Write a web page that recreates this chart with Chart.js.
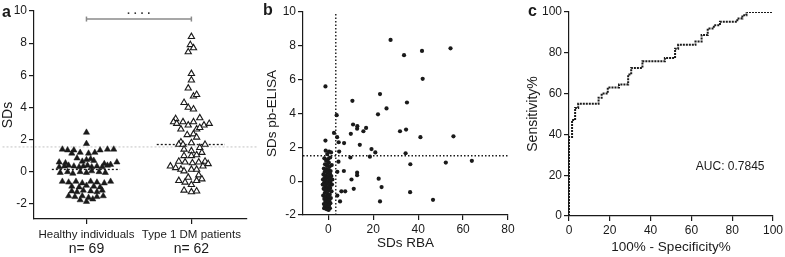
<!DOCTYPE html>
<html>
<head>
<meta charset="utf-8">
<script src="https://cdn.jsdelivr.net/npm/chart.js@4.4.0/dist/chart.umd.min.js"></script>
<style>
html, body { margin: 0; padding: 0; background: #fff; }
#wrap { position: relative; width: 785px; height: 257px; overflow: hidden; }
canvas { position: absolute; top: 0; }
</style>
</head>
<body>
<div id="wrap">
  <canvas id="chartA" width="262" height="257" style="left:0px"></canvas>
  <canvas id="chartB" width="263" height="257" style="left:262px"></canvas>
  <canvas id="chartC" width="260" height="257" style="left:525px"></canvas>
</div>
<script>
// ---- panel a: SDs per group (x = group position + jitter offset) ----
var groupLabels = ['Healthy individuals', 'Type 1 DM patients'];
var groupCounts = ['n= 69', 'n= 62'];
var yTicksA = [-2, 0, 2, 4, 6, 8, 10];

var healthyOffset = [0, 0,
  -0.23, -0.18, -0.12, 0.13, 0.20, 0.26,
  -0.14, -0.06, 0.02, 0.08,
  -0.09, 0.0, 0.04,
  -0.26, -0.2, -0.04, 0.07, 0.17, 0.23, 0.29,
  -0.26, -0.21, -0.17, -0.12, -0.07, -0.03, 0.01, 0.05, 0.10, 0.15, 0.2,
  -0.25, -0.18, -0.13, -0.06, 0.0, 0.05, 0.12, 0.18,
  -0.23, -0.17, -0.1, -0.04, 0.04, 0.10, 0.17, 0.23,
  -0.14, -0.07, 0.0, 0.07, 0.13,
  -0.14, -0.09, -0.03, 0.04, 0.10, 0.15,
  -0.17, -0.11, -0.04, 0.02, 0.10, 0.16,
  -0.06, 0.0, 0.06];
var healthyY = [2.45, 1.75,
  1.4, 1.35, 1.35, 1.35, 1.4, 1.4,
  1.15, 1.2, 1.15, 1.2,
  0.85, 0.75, 0.8,
  0.6, 0.55, 0.65, 0.7, 0.5, 0.45, 0.6,
  0.3, 0.35, 0.4, 0.35, 0.3, 0.35, 0.4, 0.3, 0.35, 0.3, 0.4,
  -0.05, 0.0, -0.1, 0.0, -0.05, 0.05, 0.0, -0.05,
  -0.6, -0.65, -0.6, -0.7, -0.6, -0.65, -0.7, -0.6,
  -0.9, -0.95, -0.85, -0.9, -0.95,
  -1.2, -1.25, -1.15, -1.2, -1.25, -1.15,
  -1.5, -1.55, -1.5, -1.6, -1.55, -1.5,
  -1.75, -1.85, -1.7];

var diabeticOffset = [0.0,
  -0.01, 0.02, -0.03,
  0.0, 0.0, -0.03,
  0.02, 0.05,
  -0.07, -0.03, 0.02,
  -0.15, -0.17, -0.14, -0.08, -0.03, 0.02, 0.08, 0.12, 0.17,
  -0.1, 0.05, 0.08,
  -0.04, 0.02, 0.05,
  -0.1, -0.12, -0.08, 0.0, 0.08, 0.13,
  -0.07, 0.0, 0.1,
  -0.07, 0.0, 0.05,
  -0.12, -0.06, 0.01, 0.07, 0.13, 0.16,
  -0.2, -0.15, -0.1, -0.07, 0.0, 0.05, 0.11,
  0.07, -0.03,
  -0.12, -0.06, 0.05, 0.1,
  0.0,
  -0.07, 0.0, 0.05];
var diabeticY = [8.4,
  7.9, 7.7, 7.45,
  6.1, 5.7, 5.2,
  4.7, 4.8,
  4.3, 4.0, 3.9,
  3.3, 3.1, 3.0, 3.1, 2.9, 3.1, 3.35, 2.9, 3.0,
  2.65, 2.65, 2.75,
  2.3, 2.35, 2.15,
  1.85, 1.7, 1.7, 1.8, 1.5, 1.7,
  1.4, 1.3, 1.2,
  1.0, 1.0, 1.05,
  0.65, 0.6, 0.55, 0.6, 0.65, 0.5,
  0.35, 0.25, 0.15, 0.05, 0.15, 0.15, 0.35,
  -0.2, -0.35,
  -0.55, -0.65, -0.55, -0.45,
  -0.8,
  -1.15, -1.25, -1.2];

var healthyMedian = 0.15;
var diabeticMedian = 1.7;
var cutoffA = 1.55;
var signifLevel = 9.5;
var signifText = '· · · ·';

// ---- panel b: SDs RBA vs SDs pb-ELISA ----
var xTicksB = [0, 20, 40, 60, 80];
var yTicksB = [-2, 0, 2, 4, 6, 8, 10];
var rbaX = [-1.3, 27.7, 33.7, 41.7, 54.4, 42.0, 10.7, 23.0, 35.0, 25.9, 22.1, 3.7, 11.0, 12.9, 12.8, 16.8, 15.6,
  31.9, 34.6, 41.0, 55.7, -1.3, 2.5, 3.9, 4.6, 7.0, 10.0, 14.0, 19.2, 20.9, 18.5, 9.8, 34.4, 36.5, 52.3, 63.9,
  4.8, 4.5, 4.0, 6.9, 12.8, 12.8, 10.3, 22.4, 23.7, 23.0, 36.4, 46.6, 11.3, 5.8, 7.5, 4.0, 5.2,
  -1.2, 0.3, -0.5, 1.2, -1.8, -0.2, 0.8, -1.0, 0.2, -1.5, 1.5, -0.6, 0.5, -2.0, -0.9, 0.1, 1.0, -1.6, -0.3, 0.7,
  -2.2, -1.1, 0.0, 1.3, -1.7, -0.5, 0.6, -2.4, -1.3, -0.1, 0.9, -1.9, -0.7, 0.4, 1.6, -1.4, -0.2, 0.8, -2.1, -0.9,
  0.2, 1.4, -1.6, -0.4, 0.6, -2.3, -1.1, 0.0, 1.1, -1.8, -0.6, 0.4, -1.3, -0.1, 0.9, -2.0, -0.8, 0.3, -1.5, -0.3,
  0.7, -1.9, -0.9, 0.1, -1.2, -0.4, 1.8, -2.5];
var elisaY = [5.6, 8.35, 7.45, 7.7, 7.85, 6.05, 4.75, 5.15, 4.65, 4.3, 3.95, 3.9, 3.35, 3.25, 3.1, 3.15, 2.95,
  2.95, 3.05, 2.6, 2.65, 2.4, 2.85, 2.6, 2.3, 2.25, 2.8, 2.15, 1.9, 1.7, 1.45, 1.4, 1.65, 1.0, 1.1, 1.2,
  1.75, 1.15, 0.55, 0.6, 0.5, 0.35, 0.1, 0.15, -0.35, -1.2, -0.65, -1.1, -0.45, -0.6, -0.6, -0.85, -1.2,
  1.8, 1.75, 1.6, 1.7, 1.35, 1.3, 1.4, 1.2, 1.1, 1.0, 0.95, 0.9, 0.85, 0.75, 0.7, 0.65, 0.6, 0.55, 0.5, 0.45,
  0.4, 0.35, 0.3, 0.3, 0.2, 0.2, 0.15, 0.1, 0.05, 0.0, -0.05, -0.1, -0.15, -0.2, -0.2, -0.3, -0.35, -0.4, -0.45, -0.5,
  -0.55, -0.6, -0.7, -0.75, -0.8, -0.85, -0.9, -0.95, -1.0, -1.05, -1.1, -1.15, -1.2, -1.25, -1.3, -1.35, -1.4, -1.45, -1.5, -1.55,
  -1.6, -1.6, -1.65, -1.7, -0.55, 1.0, 0.1, -0.2];
var rbaCut = 3.3;
var elisaCut = 1.5;

// ---- panel c: ROC curve ----
var ticksC = [0, 20, 40, 60, 80, 100];
var rocX = [0, 0, 1.5, 3, 4.5, 14.5, 16, 19, 24.5, 29, 30.5, 36, 47, 52, 53.5, 62, 65, 68, 71, 74, 82.5, 85, 87, 100];
var rocY = [0, 38.7, 47, 53, 55, 58, 60, 63, 64.5, 69.4, 72.6, 75.8, 77.4, 82, 83.9, 85.5, 88.7, 91.9, 93.5, 95.2, 96.8, 98.4, 100, 100];
var aucText = 'AUC: 0.7845';

Chart.defaults.font.family = '"Liberation Sans", Arial, sans-serif';
Chart.defaults.color = '#222';
Chart.defaults.animation = false;
Chart.defaults.plugins.legend.display = false;
Chart.defaults.plugins.tooltip.enabled = false;

var ink = '#1a1a1a';
var fam = '"Liberation Sans", Arial, sans-serif';

// panel letter + extra text
var labelPlugin = {
  id: 'labels',
  afterDraw: function (chart, args, opts) {
    var ctx = chart.ctx;
    ctx.save();
    ctx.fillStyle = ink;
    ctx.font = 'bold 16px ' + fam;
    ctx.textBaseline = 'alphabetic';
    ctx.textAlign = 'left';
    ctx.fillText(opts.letter, opts.lx, opts.ly);
    if (opts.text) {
      ctx.font = opts.font;
      ctx.textAlign = 'center';
      ctx.textBaseline = 'middle';
      var px = chart.scales.x.getPixelForValue(opts.tx);
      var py = chart.scales.y.getPixelForValue(opts.ty) + (opts.dy || 0);
      ctx.fillStyle = opts.color || ink;
      ctx.fillText(opts.text, px, py);
    }
    if (opts.counts) {
      ctx.fillStyle = ink;
      ctx.font = '14px ' + fam;
      ctx.textAlign = 'center';
      ctx.textBaseline = 'middle';
      opts.counts.forEach(function (t, i) {
        ctx.fillText(t, chart.scales.x.getPixelForValue(i + 1), chart.scales.x.bottom - 8);
      });
    }
    ctx.restore();
  }
};

function fixedTicks(list) {
  return function (scale) {
    scale.ticks = list.map(function (v) { return { value: v }; });
  };
}

function axis(extra) {
  var base = {
    type: 'linear',
    grid: { drawOnChartArea: false, drawTicks: true, tickLength: 5, color: ink, lineWidth: 1.2 },
    border: { display: true, color: ink, width: 1.2 },
    ticks: { font: { size: 12 }, color: ink, padding: 2 }
  };
  return Object.assign(base, extra);
}

function pts(xs, ys) {
  return ys.map(function (y, i) { return { x: xs[i], y: y }; });
}

// ---------- panel a ----------
new Chart(document.getElementById('chartA'), {
  type: 'scatter',
  data: {
    datasets: [
      {
        data: pts(healthyOffset.map(function (o) { return 1 + o; }), healthyY),
        pointStyle: 'triangle', pointRadius: 3.6, backgroundColor: ink, borderColor: ink, borderWidth: 0.5, order: 0
      },
      {
        data: pts(diabeticOffset.map(function (o) { return 2 + o; }), diabeticY),
        pointStyle: 'triangle', pointRadius: 3.6, backgroundColor: '#fff', borderColor: ink, borderWidth: 1.1, order: 0
      },
      {
        data: [{ x: 0.67, y: healthyMedian }, { x: 1.32, y: healthyMedian }],
        showLine: true, borderColor: ink, borderWidth: 1.3, borderDash: [2, 2], pointRadius: 0, order: 1
      },
      {
        data: [{ x: 1.67, y: diabeticMedian }, { x: 2.32, y: diabeticMedian }],
        showLine: true, borderColor: ink, borderWidth: 1.3, borderDash: [2, 2], pointRadius: 0, order: 1
      },
      {
        data: [{ x: 0.2, y: cutoffA }, { x: 2.64, y: cutoffA }],
        showLine: true, clip: false, borderColor: '#c4c4c4', borderWidth: 1, borderDash: [2, 2], pointRadius: 0, order: 2
      },
      {
        data: [{ x: 1, y: signifLevel }, { x: 2, y: signifLevel }],
        showLine: true, borderColor: '#8a8a8a', borderWidth: 1.5, pointStyle: 'line', rotation: 90,
        pointRadius: 2.5, pointBorderColor: '#8a8a8a', pointBorderWidth: 1.5, order: 1
      }
    ]
  },
  options: {
    responsive: false,
    devicePixelRatio: 1,
    layout: { padding: { left: 0, right: 15, top: 11, bottom: 0 } },
    scales: {
      x: axis({
        min: 0.5, max: 2.53,
        afterBuildTicks: fixedTicks([1, 2]),
        afterFit: function (s) { s.height = 38; },
        ticks: {
          font: { size: 11.5 }, color: ink, padding: 4,
          callback: function (v) { return groupLabels[Math.round(v) - 1]; }
        }
      }),
      y: axis({
        min: -2.93, max: 10,
        afterBuildTicks: fixedTicks(yTicksA),
        afterFit: function (s) { s.width = 34; },
        title: { display: true, text: 'SDs', font: { size: 14 }, color: ink, padding: { top: 0, bottom: 0 } }
      })
    },
    plugins: {
      labels: {
        letter: 'a', lx: 2, ly: 17, text: signifText, tx: 1.5, ty: signifLevel, dy: -5,
        font: 'bold 11px ' + fam, color: '#333', counts: groupCounts
      }
    }
  },
  plugins: [labelPlugin]
});

// ---------- panel b ----------
new Chart(document.getElementById('chartB'), {
  type: 'scatter',
  data: {
    datasets: [
      {
        data: pts(rbaX, elisaY),
        pointStyle: 'circle', pointRadius: 2.1, backgroundColor: ink, borderColor: ink, borderWidth: 0, order: 0
      },
      {
        data: [{ x: rbaCut, y: -2 }, { x: rbaCut, y: 10 }],
        showLine: true, borderColor: ink, borderWidth: 1.4, borderDash: [1.5, 2], pointRadius: 0, order: 1
      },
      {
        data: [{ x: -11.3, y: elisaCut }, { x: 80, y: elisaCut }],
        showLine: true, borderColor: ink, borderWidth: 1.4, borderDash: [1.5, 2], pointRadius: 0, order: 1
      }
    ]
  },
  options: {
    responsive: false,
    devicePixelRatio: 1,
    layout: { padding: { left: 0, right: 17, top: 12, bottom: 0 } },
    scales: {
      x: axis({
        min: -11.3, max: 80,
        afterBuildTicks: fixedTicks(xTicksB),
        afterFit: function (s) { s.height = 42; },
        title: { display: true, text: 'SDs RBA', font: { size: 13.5 }, color: ink, padding: { top: 0, bottom: 6 } }
      }),
      y: axis({
        min: -2, max: 10,
        afterBuildTicks: fixedTicks(yTicksB),
        afterFit: function (s) { s.width = 41; },
        title: { display: true, text: 'SDs pb-ELISA', font: { size: 13.5 }, color: ink, padding: { top: 2, bottom: 0 } }
      })
    },
    plugins: {
      labels: { letter: 'b', lx: 1, ly: 15 }
    }
  },
  plugins: [labelPlugin]
});

// ---------- panel c ----------
new Chart(document.getElementById('chartC'), {
  type: 'scatter',
  data: {
    datasets: [
      {
        data: pts(rocX, rocY),
        showLine: true, stepped: 'before', borderColor: ink, borderWidth: 2, borderDash: [2, 1],
        pointRadius: 0, order: 0
      }
    ]
  },
  options: {
    responsive: false,
    devicePixelRatio: 1,
    layout: { padding: { left: 0, right: 11, top: 12, bottom: 0 } },
    scales: {
      x: axis({
        min: 0, max: 100,
        afterBuildTicks: fixedTicks(ticksC),
        afterFit: function (s) { s.height = 41; },
        title: { display: true, text: '100% - Specificity%', font: { size: 13.5 }, color: ink, padding: { top: 0, bottom: 2 } }
      }),
      y: axis({
        min: 0, max: 100,
        afterBuildTicks: fixedTicks(ticksC),
        afterFit: function (s) { s.width = 44; },
        title: { display: true, text: 'Sensitivity%', font: { size: 14 }, color: ink, padding: { top: 0, bottom: 0 } }
      })
    },
    plugins: {
      labels: { letter: 'c', lx: 3, ly: 16, text: aucText, tx: 79, ty: 24, font: '12px ' + fam }
    }
  },
  plugins: [labelPlugin]
});
</script>
</body>
</html>
